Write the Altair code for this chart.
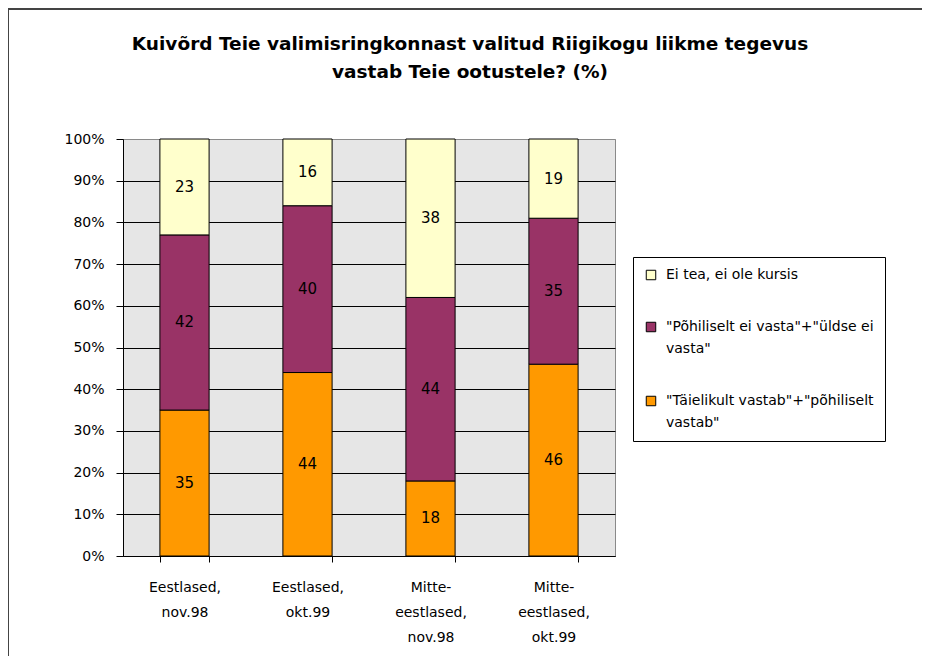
import altair as alt
import pandas as pd

# ---- data ----
categories = ["Eestlased,|nov.98", "Eestlased,|okt.99",
              "Mitte-|eestlased,|nov.98", "Mitte-|eestlased,|okt.99"]
series = ["Ei tea, ei ole kursis",
          '"Põhiliselt ei vasta"+"üldse ei|vasta"',
          '"Täielikult vastab"+"põhiliselt|vastab"']
ei_tea = [23, 16, 38, 19]
ei_vasta = [42, 40, 44, 35]
vastab = [35, 44, 18, 46]
colors = ["#FFFFCC", "#993366", "#FF9900"]
y_ticks = [0, 10, 20, 30, 40, 50, 60, 70, 80, 90, 100]
title_lines = ["Kuivõrd Teie valimisringkonnast valitud Riigikogu liikme tegevus",
               "vastab Teie ootustele? (%)"]

# stacking order: bottom -> top
stack_series = [(series[2], vastab), (series[1], ei_vasta), (series[0], ei_tea)]
rows = []
for ci, cat in enumerate(categories):
    for order, (name, vals) in enumerate(stack_series):
        rows.append({"category": cat, "series": name, "value": vals[ci], "order": order})
df = pd.DataFrame(rows)

FONT = "DejaVu Sans"

base = alt.Chart(df).transform_stack(
    stack="value", as_=["y0", "y1"], groupby=["category"],
    sort=[alt.SortField("order", order="ascending")]
).transform_calculate(mid="(datum.y0 + datum.y1) / 2")

x_enc = alt.X("category:N", sort=categories, title=None,
              scale=alt.Scale(paddingInner=0.6, paddingOuter=0.3),
              axis=alt.Axis(labelExpr="split(datum.label, '|')", labelAngle=0,
                            labelLineHeight=25, labelFontSize=14, labelPadding=18,
                            labelColor="black", labelFont=FONT,
                            tickBand="extent", tickSize=6, tickColor="black",
                            domainColor="black", grid=False))

bars = base.mark_bar(stroke="black", strokeWidth=1).encode(
    x=x_enc,
    y=alt.Y("y0:Q", title=None, scale=alt.Scale(domain=[0, 100], nice=False),
            axis=alt.Axis(values=y_ticks, labelExpr="datum.value + '%'",
                          labelFontSize=14, labelFont=FONT, labelColor="black",
                          labelPadding=12, tickSize=7, tickColor="black",
                          domainColor="black",
                          gridColor={"condition": {"test": "datum.value >= 100",
                                                   "value": "#8a8a8a"},
                                     "value": "black"},
                          gridOpacity=1, gridWidth=1)),
    y2="y1:Q",
    color=alt.Color("series:N", scale=alt.Scale(domain=series, range=colors),
                    legend=alt.Legend(title=None, orient="none", legendX=510, legendY=118,
                                      symbolType="square", symbolSize=90,
                                      symbolStrokeColor="black", symbolStrokeWidth=1,
                                      labelExpr="split(datum.label, '|')",
                                      labelFontSize=14, labelFont=FONT, labelColor="black",
                                      labelLimit=1000, labelOffset=8,
                                      padding=11, rowPadding=38,
                                      strokeColor="black", fillColor="white"))
)

labels = base.mark_text(fontSize=15, font=FONT, color="black").encode(
    x=alt.X("category:N", sort=categories),
    y=alt.Y("mid:Q"),
    text=alt.Text("value:Q")
)

frame_df = pd.DataFrame({"a": [0]})
frame_top = alt.Chart(frame_df).mark_rule(stroke="#444444", strokeWidth=2).encode(
    x=alt.value(-116), x2=alt.value(799), y=alt.value(-130))
frame_left = alt.Chart(frame_df).mark_rule(stroke="#444444", strokeWidth=2).encode(
    x=alt.value(-115), y=alt.value(-131), y2=alt.value(517))

chart = alt.layer(frame_top, frame_left, bars, labels).properties(
    width=492, height=417,
    background="white",
    autosize=alt.AutoSizeParams(type="none"),
    padding={"left": 115, "top": 131, "right": 307, "bottom": 100},
    title=alt.TitleParams(title_lines, anchor="middle", frame="group", dx=101, offset=-74,
                          fontSize=18.5, fontWeight="bold", font=FONT,
                          color="black", lineHeight=28)
).configure(
    view=alt.ViewConfig(fill="#e6e6e6", stroke="#8a8a8a"),
    style={"guide-label": {"lineHeight": 22}}
)

chart.save("out.html", embed_options={"renderer": "svg", "actions": False})
